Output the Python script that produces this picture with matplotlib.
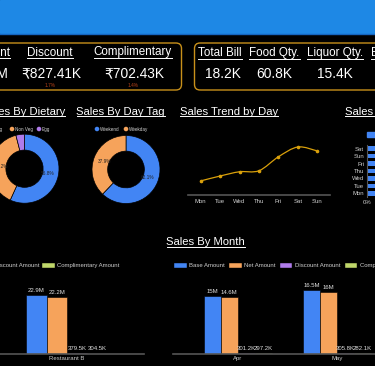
import matplotlib.pyplot as plt
from matplotlib.lines import Line2D
from matplotlib.patches import Rectangle, FancyBboxPatch, PathPatch
from matplotlib.path import Path

plt.rcParams['font.family'] = ['Liberation Sans', 'DejaVu Sans']

W, H = 375, 366

# --- data ---
kpi1_labels = ["Net Amount", "Discount", "Complimentary"]
kpi1_values = ["₹47.1M", "₹827.41K", "₹702.43K"]
kpi1_pcts = ["", "1.7%", "1.4%"]
kpi2_labels = ["Total Bill", "Food Qty.", "Liquor Qty.", "Beverage Qty."]
kpi2_values = ["18.2K", "60.8K", "15.4K"]

dietary_labels = ["Veg", "Non Veg", "Egg"]
dietary_share = [56.8, 39.2, 4.0]
daytag_labels = ["Weekend", "Weekday"]
daytag_share = [62.1, 37.9]

days = ["Mon", "Tue", "Wed", "Thu", "Fri", "Sat", "Sun"]
day_sales_m = [3.0, 4.05, 4.96, 5.18, 8.16, 10.24, 9.39]

# bottom-to-top order of the cut-off bar chart on the right
split_days = ["Mon", "Tue", "Wed", "Thu", "Fri", "Sun", "Sat"]
split_share = [57, 56, 58, 57, 56, 57, 56]

amount_labels = ["Base Amount", "Net Amount", "Discount Amount", "Complimentary Amount"]
restaurants = ["Restaurant B"]
restaurant_amounts = [[22.9e6], [22.2e6], [379.5e3], [304.5e3]]
months = ["Apr", "May"]
month_amounts = [[15.0e6, 16.5e6], [14.6e6, 16.0e6], [301.2e3, 305.8e3], [297.2e3, 282.1e3]]

BLUE = "#4285F4"
ORANGE = "#F6A35B"
PURPLE = "#B07CEB"
GREEN = "#BFD66A"
GOLD = "#D9A00B"
BORDER = "#C8901A"
TICK = "#CFCFCF"
series_colors = [BLUE, ORANGE, PURPLE, GREEN]

fig = plt.figure(figsize=(W / 100, H / 100), dpi=100, facecolor="black")


def fx(x):
    return x / W


def fy(y):
    return 1 - y / H


def txt(x, y, s, size, color="white", ha="center", va="center", **kw):
    return fig.text(fx(x), fy(y), s, fontsize=size, color=color, ha=ha, va=va, **kw)


def underline(t, color="white"):
    r = fig.canvas.get_renderer()
    bb = t.get_window_extent(r)
    fig.add_artist(Line2D([bb.x0 / W, bb.x1 / W], [(bb.y0 + 0.3) / H] * 2,
                          color=color, lw=0.7, transform=fig.transFigure))


def ax_px(x0, y0, x1, y1):
    a = fig.add_axes([fx(x0), fy(y1), (x1 - x0) / W, (y1 - y0) / H])
    a.set_facecolor("none")
    return a


def fmt(v):
    if v >= 1e6:
        s = f"{v / 1e6:.1f}".rstrip("0").rstrip(".")
        return s + "M"
    return f"{v / 1e3:.1f}K"


# header band
fig.add_artist(Rectangle((0, fy(33)), 1, 33 / H, color="#1E88E5", transform=fig.transFigure))
fig.add_artist(Line2D([0, 1], [fy(33.5)] * 2, color="#1565C0", lw=1, transform=fig.transFigure))

# KPI cards
for x0, x1 in [(-20, 181.5), (194.5, 420)]:
    fig.add_artist(FancyBboxPatch((fx(x0), fy(90)), (x1 - x0) / W, 47 / H,
                                  boxstyle="round,pad=0,rounding_size=0.015",
                                  transform=fig.transFigure, fill=False,
                                  edgecolor=BORDER, lw=1))

# first card column is cut off by the left edge
t = txt(10, 52.5, kpi1_labels[0], 8.4, ha="right")
underline(t)
txt(8.5, 73.5, kpi1_values[0], 9.9, ha="right")

kpi1_x = [50, 133]
for x, lab, val, pct in zip(kpi1_x, kpi1_labels[1:], kpi1_values[1:], kpi1_pcts[1:]):
    t = txt(x, 52.5, lab, 8.4)
    underline(t)
    txt(x + 1, 73.5, val, 9.9)
    txt(x, 85.5, pct, 3.4, color="#B8441A")

kpi2_x = [220, 274.5, 335.3]
for x, lab, val in zip(kpi2_x, kpi2_labels, kpi2_values):
    t = txt(x, 53.3, lab, 8.4)
    underline(t)
    txt(x + 3 if x == kpi2_x[0] else x, 74, val, 9.9)
t = txt(371, 53.3, kpi2_labels[3], 8.4, ha="left")
underline(t)

# section titles
t = txt(65, 111.5, "Sales By Dietary", 8.1, ha="right")
underline(t)
t = txt(76.5, 111.5, "Sales By Day Tag", 8.1, ha="left")
underline(t)
t = txt(180, 111.5, "Sales Trend by Day", 8.1, ha="left")
underline(t)
t = txt(345, 111.5, "Sales By Day & Dietary", 8.1, ha="left")
underline(t)
t = txt(166.5, 242.3, "Sales By Month", 8.1, ha="left")
underline(t)


# donuts
def donut(cx, cy, r, values, colors):
    a = ax_px(cx - r, cy - r, cx + r, cy + r)
    a.pie(values, colors=colors, startangle=90, counterclock=False, radius=1,
          wedgeprops=dict(width=0.46, edgecolor="black", linewidth=0.5),
          autopct=lambda p: f"{p:.1f}%" if p > 5 else "", pctdistance=0.67,
          textprops=dict(fontsize=3.4, color="#222222"))
    a.set_xlim(-1, 1)
    a.set_ylim(-1, 1)
    a.set_aspect("equal")
    a.axis("off")


donut(24.5, 168.7, 34.5, dietary_share, [BLUE, ORANGE, PURPLE])
donut(126, 169.5, 34, daytag_share, [BLUE, ORANGE])


def dot_legend(items, y):
    for x, lab, col in items:
        fig.add_artist(plt.Circle((fx(x), fy(y)), 1.6 / W, color=col, transform=fig.transFigure))
        txt(x + 3, y, lab, 3.3, color=TICK, ha="left")


dot_legend([(-8, dietary_labels[0], BLUE), (12, dietary_labels[1], ORANGE),
            (39, dietary_labels[2], PURPLE)], 129)
dot_legend([(97, daytag_labels[0], BLUE), (126, daytag_labels[1], ORANGE)], 129)

# line chart
ax = ax_px(188, 120, 330, 195)
xs = list(range(len(days)))
pts = list(zip(xs, day_sales_m))
verts = [pts[0]]
codes = [Path.MOVETO]
for i in range(len(pts) - 1):
    p0 = pts[max(i - 1, 0)]
    p1 = pts[i]
    p2 = pts[i + 1]
    p3 = pts[min(i + 2, len(pts) - 1)]
    c1 = (p1[0] + (p2[0] - p0[0]) / 6, p1[1] + (p2[1] - p0[1]) / 6)
    c2 = (p2[0] - (p3[0] - p1[0]) / 6, p2[1] - (p3[1] - p1[1]) / 6)
    verts += [c1, c2, p2]
    codes += [Path.CURVE4] * 3
ax.add_patch(PathPatch(Path(verts, codes), fill=False, edgecolor=GOLD, lw=0.9))
ax.plot(xs, day_sales_m, "o", color=GOLD, ms=1.6)
ax.set_xlim(-0.65, 6.65)
ax.set_ylim(0, 16)
ax.set_xticks(xs)
ax.set_xticklabels(days)
ax.set_yticks([])
ax.tick_params(axis="x", length=0, pad=3, labelsize=4.3, labelcolor=TICK)
for s in ["top", "right", "left"]:
    ax.spines[s].set_visible(False)
ax.spines["bottom"].set_color("#555555")
ax.spines["bottom"].set_linewidth(1.2)

# horizontal split bars (cut at the right edge)
ax = ax_px(367, 145, 600, 197)
ys = list(range(len(split_days)))
ax.barh(ys, split_share, height=0.62, color=BLUE)
ax.set_ylim(-0.5, len(split_days) - 0.5)
ax.set_xlim(0, 100)
ax.set_yticks(ys)
ax.set_yticklabels(split_days)
ax.set_xticks([0])
ax.set_xticklabels(["0%"])
ax.tick_params(length=0, pad=2, labelsize=4.3, labelcolor=TICK)
for s in ["top", "right", "bottom"]:
    ax.spines[s].set_visible(False)
ax.spines["left"].set_color("#555555")
fig.add_artist(Rectangle((fx(367), fy(136.5)), 12 / W, 5 / H, color=BLUE, transform=fig.transFigure))


# grouped bars
def grouped(a, cats, amounts, width):
    n = len(amounts)
    for k, (vals, col) in enumerate(zip(amounts, series_colors)):
        pos = [i + (k - (n - 1) / 2) * width for i in range(len(cats))]
        a.bar(pos, vals, width=width, color=col, edgecolor="black", linewidth=0.4)
        for p, v in zip(pos, vals):
            a.annotate(fmt(v), (p, v), xytext=(0, 1.5), textcoords="offset points",
                       ha="center", va="bottom", fontsize=4.3, color="#E0E0E0")
    a.set_xticks(range(len(cats)))
    a.set_xticklabels(cats)
    a.set_yticks([])
    a.tick_params(axis="x", length=0, pad=1.5, labelsize=4.3, labelcolor=TICK)
    for s in ["top", "right", "left"]:
        a.spines[s].set_visible(False)
    a.spines["bottom"].set_color("#555555")
    a.spines["bottom"].set_linewidth(1.2)


ax = ax_px(-10, 276.6, 144, 354.3)
grouped(ax, restaurants, restaurant_amounts, 0.132)
ax.set_xlim(-0.5, 0.5)
ax.set_ylim(0, 30e6)

ax = ax_px(173, 276.3, 400, 354.3)
grouped(ax, months, month_amounts, 0.171)
ax.set_xlim(-0.652, -0.652 + 227 / 99.3)
ax.set_ylim(0, 20e6)


def box_legend(items, y):
    for x, lab, col in items:
        fig.add_artist(Rectangle((fx(x), fy(y + 2.7)), 12.5 / W, 5.4 / H, facecolor=col,
                                 edgecolor="black", lw=0.3, transform=fig.transFigure))
        txt(x + 15, y, lab, 4.3, color=TICK, ha="left")


box_legend([(-21, amount_labels[2], PURPLE), (42, amount_labels[3], GREEN)], 265.7)
box_legend([(174, amount_labels[0], BLUE), (229.3, amount_labels[1], ORANGE),
            (279.7, amount_labels[2], PURPLE), (344.7, amount_labels[3], GREEN)], 265.7)

fig.savefig("out.png", dpi=100, facecolor="black")
